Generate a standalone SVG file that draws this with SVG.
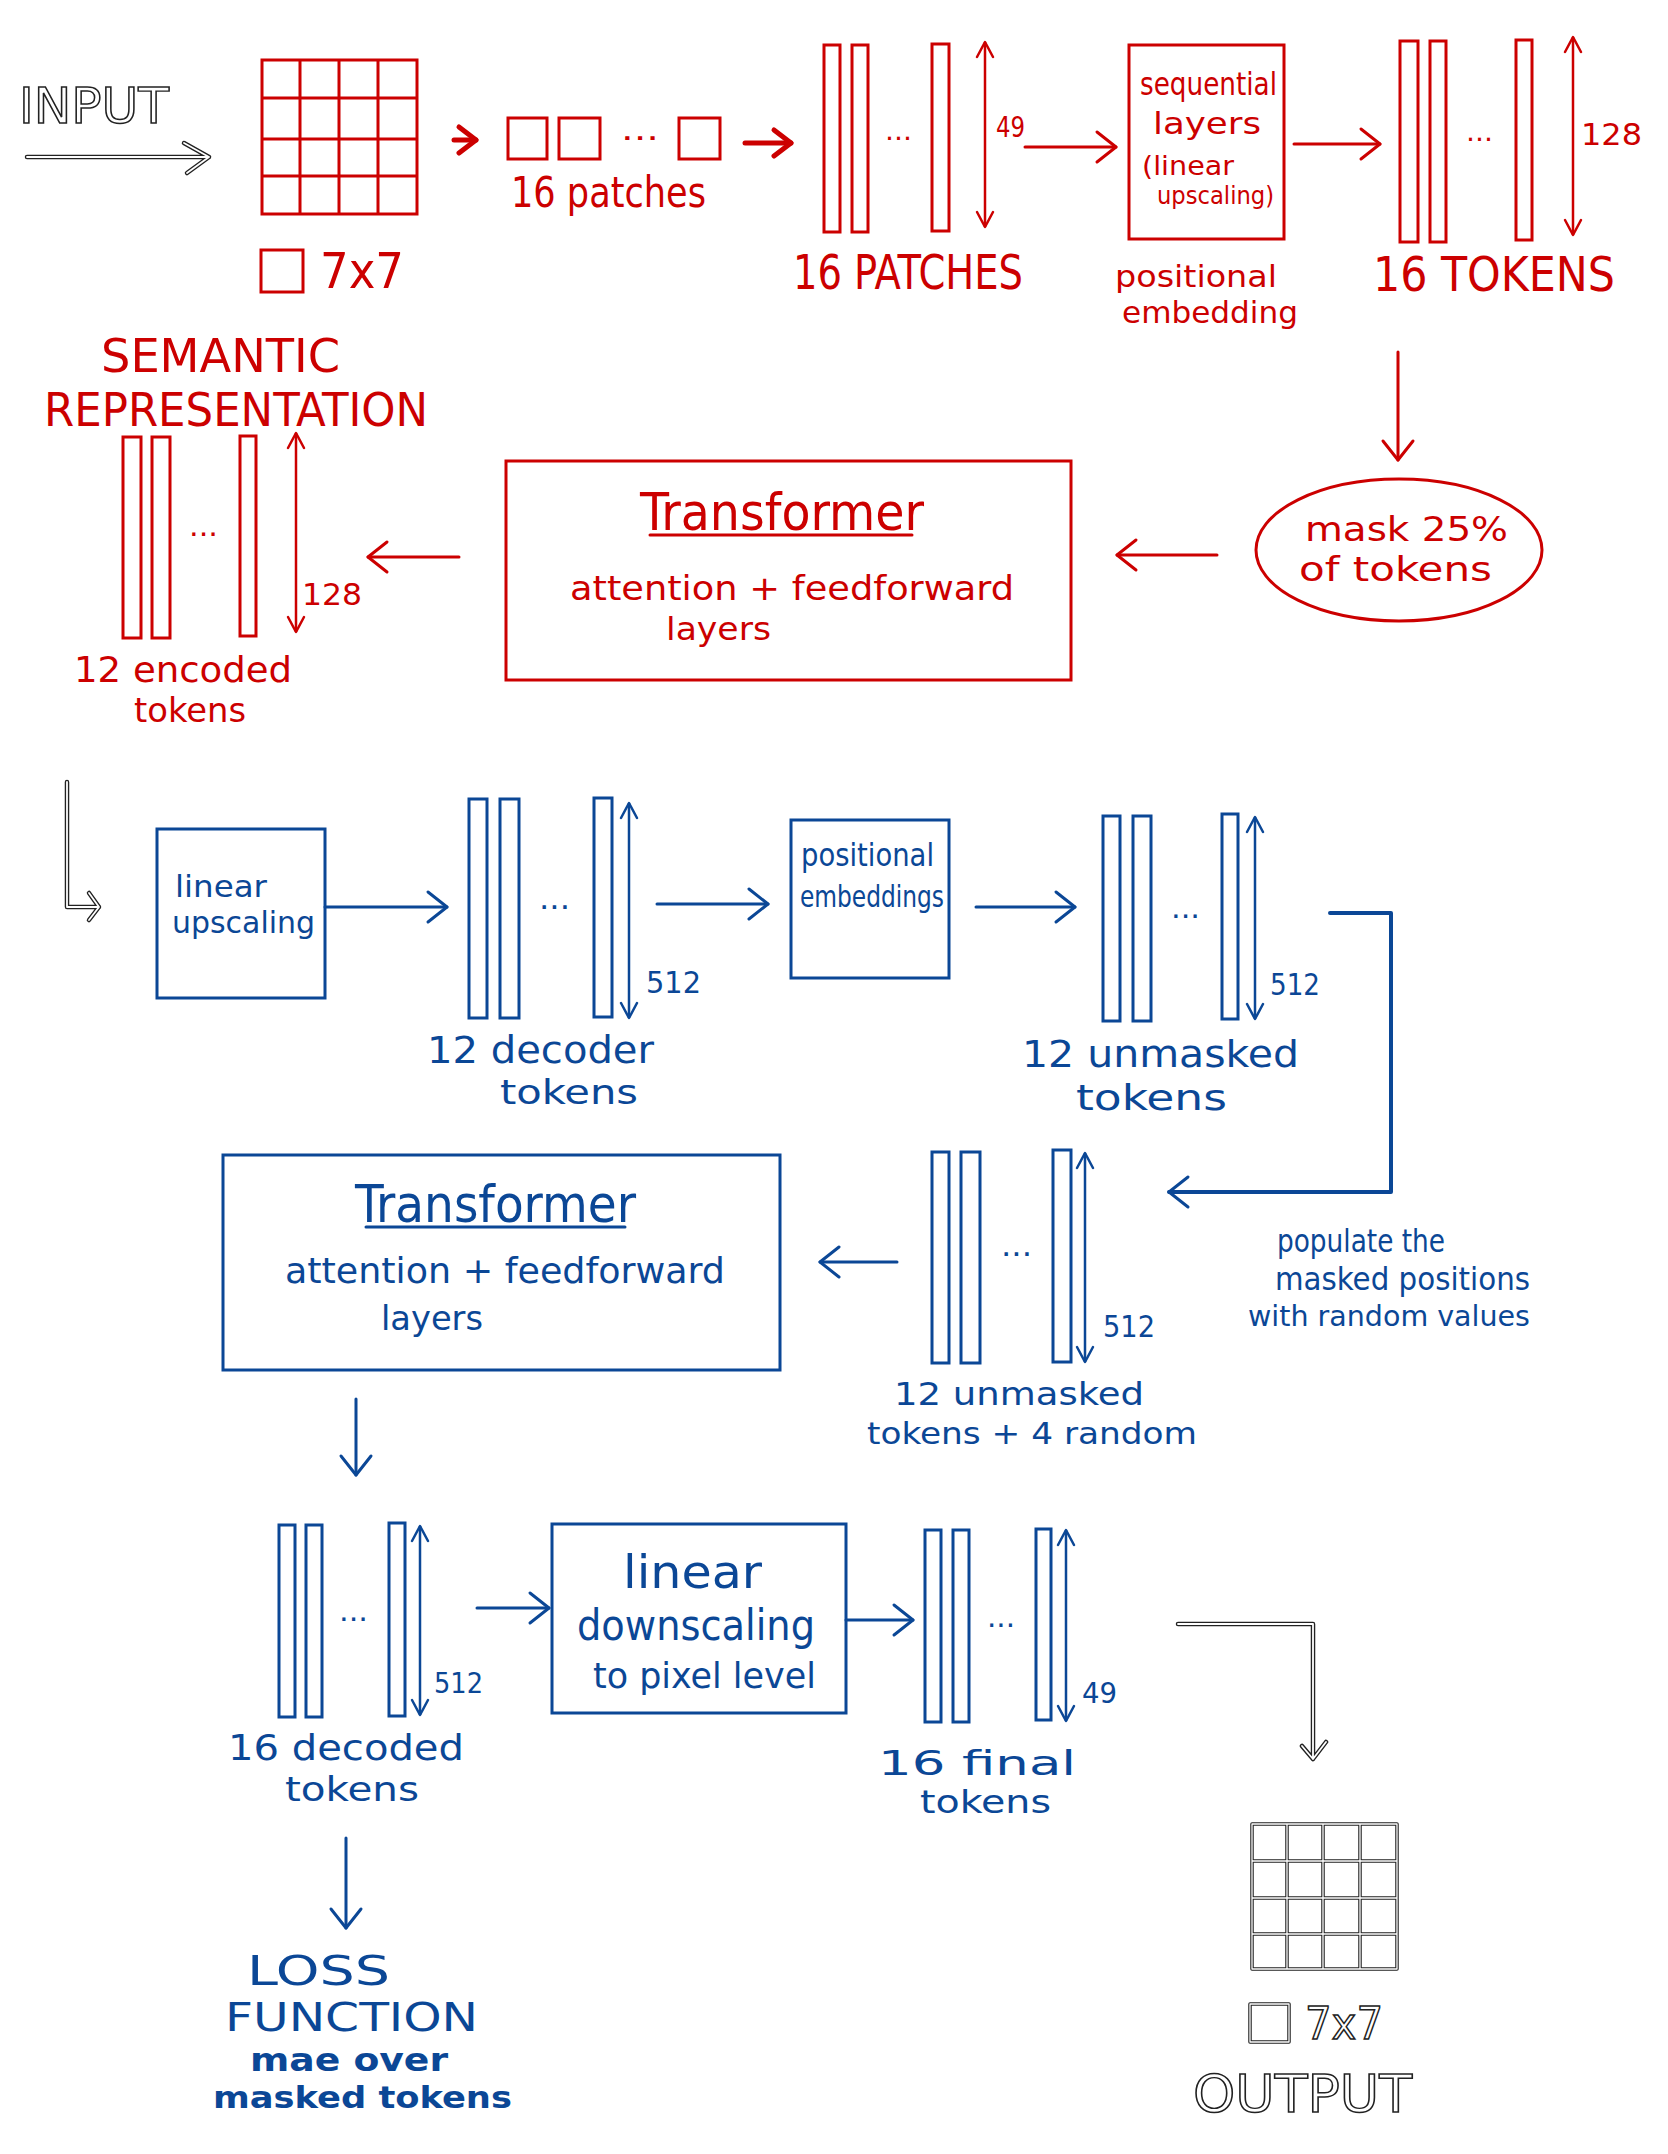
<svg xmlns="http://www.w3.org/2000/svg" width="1668" height="2154" viewBox="0 0 1668 2154">
<style>
text{font-family:"Liberation Sans Narrow","DejaVu Sans Condensed","Liberation Sans",sans-serif;}
.r{fill:#cc0000;}
.b{fill:#0b4796;}
.sr{fill:none;stroke:#cc0000;stroke-width:3;stroke-linecap:round;stroke-linejoin:round;}
.sb{fill:none;stroke:#0b4796;stroke-width:3;stroke-linecap:round;stroke-linejoin:round;}
.srb{fill:none;stroke:#cc0000;stroke-width:5;stroke-linecap:round;stroke-linejoin:round;}
.ko{fill:none;stroke:#222;stroke-width:4.5;stroke-linecap:round;stroke-linejoin:round;}
.ki{fill:none;stroke:#fff;stroke-width:1.8;stroke-linecap:round;stroke-linejoin:round;}
.kt{fill:#fff;stroke:#222;stroke-width:1.4;}
.bar-r{fill:none;stroke:#cc0000;stroke-width:3;}
.bar-b{fill:none;stroke:#0b4796;stroke-width:3;}
.dr{stroke:#cc0000;stroke-width:2.5;marker-start:url(#dR);marker-end:url(#dR);}
.db{stroke:#0b4796;stroke-width:2.5;marker-start:url(#dB);marker-end:url(#dB);}
</style>
<defs>
<marker id="mR" viewBox="-3 -3 26 36" markerWidth="26" markerHeight="36" refX="19" refY="15" orient="auto" markerUnits="userSpaceOnUse"><path d="M0,0 L19,15 L0,30" fill="none" stroke="#cc0000" stroke-width="3" stroke-linecap="round" stroke-linejoin="round"/></marker>
<marker id="mRb" viewBox="-4 -4 28 38" markerWidth="28" markerHeight="38" refX="19" refY="15" orient="auto" markerUnits="userSpaceOnUse"><path d="M2,2 L19,15 L2,28" fill="none" stroke="#cc0000" stroke-width="5" stroke-linecap="round" stroke-linejoin="round"/></marker>
<marker id="mB" viewBox="-3 -3 26 36" markerWidth="26" markerHeight="36" refX="19" refY="15" orient="auto" markerUnits="userSpaceOnUse"><path d="M0,0 L19,15 L0,30" fill="none" stroke="#0b4796" stroke-width="3" stroke-linecap="round" stroke-linejoin="round"/></marker>
<marker id="dR" viewBox="-3 -3 20 22" markerWidth="20" markerHeight="22" refX="15" refY="8" orient="auto-start-reverse" markerUnits="userSpaceOnUse"><path d="M0,0 L15,8 L0,16" fill="none" stroke="#cc0000" stroke-width="2.5" stroke-linecap="round" stroke-linejoin="round"/></marker>
<marker id="dB" viewBox="-3 -3 20 22" markerWidth="20" markerHeight="22" refX="15" refY="8" orient="auto-start-reverse" markerUnits="userSpaceOnUse"><path d="M0,0 L15,8 L0,16" fill="none" stroke="#0b4796" stroke-width="2.5" stroke-linecap="round" stroke-linejoin="round"/></marker>
<path id="inArrow" d="M27,157 L209,157 M184,143 L209,157 L187,173"/>
<path id="lArrow" d="M67,782 L67,907 L99,907 M89,893 L99,907 L89,920"/>
<path id="outArrow" d="M1178,1624 L1313,1624 L1313,1759 M1302,1746 L1313,1759 L1326,1742"/>
<path id="outGrid" d="M1252,1824 H1397 V1969 H1252 Z M1287,1824 V1969 M1323,1824 V1969 M1360,1824 V1969 M1252,1861 H1397 M1252,1898 H1397 M1252,1934 H1397 M1250,2004 H1289 V2042 H1250 Z"/>
</defs>
<rect width="1668" height="2154" fill="#fff"/>

<g id="connectors">
<use href="#inArrow" class="ko"/><use href="#inArrow" class="ki"/>
<path class="srb" d="M454,140 L476,140" marker-end="url(#mRb)"/>
<path class="srb" d="M745,143 L791,143" marker-end="url(#mRb)"/>
<path class="sr" d="M1025,147 L1116,147" marker-end="url(#mR)"/>
<path class="sr" d="M1294,144 L1380,144" marker-end="url(#mR)"/>
<path class="sr" d="M1398,352 L1398,460" marker-end="url(#mR)"/>
<path class="sr" d="M1217,555 L1117,555" marker-end="url(#mR)"/>
<path class="sr" d="M459,557 L368,557" marker-end="url(#mR)"/>
<use href="#lArrow" class="ko"/><use href="#lArrow" class="ki"/>
<path class="sb" d="M325,907 L447,907" marker-end="url(#mB)"/>
<path class="sb" d="M657,904 L768,904" marker-end="url(#mB)"/>
<path class="sb" d="M976,907 L1075,907" marker-end="url(#mB)"/>
<path class="sb" style="stroke-width:4" d="M1330,913 L1391,913 L1391,1192 L1169,1192" marker-end="url(#mB)"/>
<path class="sb" d="M897,1262 L820,1262" marker-end="url(#mB)"/>
<path class="sb" d="M356,1399 L356,1475" marker-end="url(#mB)"/>
<path class="sb" d="M477,1608 L549,1608" marker-end="url(#mB)"/>
<path class="sb" d="M846,1620 L913,1620" marker-end="url(#mB)"/>
<path class="sb" d="M346,1838 L346,1928" marker-end="url(#mB)"/>
<use href="#outArrow" class="ko"/><use href="#outArrow" class="ki"/>
<g id="populate-label">
<text class="b" x="1277" y="1252" font-size="32" textLength="168" lengthAdjust="spacingAndGlyphs">populate the</text>
<text class="b" x="1275" y="1290" font-size="32" textLength="255" lengthAdjust="spacingAndGlyphs">masked positions</text>
<text class="b" x="1248" y="1326" font-size="29" textLength="282" lengthAdjust="spacingAndGlyphs">with random values</text>
</g>
</g>

<g id="input-label">
<text class="kt" x="19" y="123" font-size="50" textLength="150" lengthAdjust="spacingAndGlyphs">INPUT</text>
</g>

<g id="input-image">
<rect class="bar-r" x="262" y="60" width="155" height="154"/>
<path class="bar-r" d="M300,60 V214 M339,60 V214 M378,60 V214 M262,98 H417 M262,139 H417 M262,176 H417"/>
<rect class="bar-r" x="261" y="250" width="42" height="42"/>
<text class="r" x="320" y="288" font-size="50" textLength="84" lengthAdjust="spacingAndGlyphs">7x7</text>
</g>

<g id="patches">
<rect class="bar-r" x="508" y="118" width="39" height="41"/>
<rect class="bar-r" x="559" y="118" width="41" height="41"/>
<text class="r" x="621" y="140" font-size="30" textLength="38" lengthAdjust="spacingAndGlyphs">...</text>
<rect class="bar-r" x="679" y="118" width="41" height="41"/>
<text class="r" x="511" y="207" font-size="42" textLength="195" lengthAdjust="spacingAndGlyphs">16 patches</text>
</g>

<g id="patch-vectors">
<rect class="bar-r" x="824" y="45" width="16" height="187"/>
<rect class="bar-r" x="852" y="45" width="16" height="187"/>
<text class="r" x="885" y="140" font-size="26" textLength="27" lengthAdjust="spacingAndGlyphs">...</text>
<rect class="bar-r" x="932" y="44" width="17" height="187"/>
<line class="dr" x1="985" y1="42" x2="985" y2="227"/>
<text class="r" x="996" y="137" font-size="28" textLength="29" lengthAdjust="spacingAndGlyphs">49</text>
<text class="r" x="793" y="289" font-size="48" textLength="230" lengthAdjust="spacingAndGlyphs">16 PATCHES</text>
</g>

<g id="sequential-layers">
<rect class="bar-r" x="1129" y="45" width="155" height="194"/>
<text class="r" x="1140" y="95" font-size="32" textLength="137" lengthAdjust="spacingAndGlyphs">sequential</text>
<text class="r" x="1153" y="134" font-size="30" textLength="108" lengthAdjust="spacingAndGlyphs">layers</text>
<text class="r" x="1142" y="175" font-size="26" textLength="92" lengthAdjust="spacingAndGlyphs">(linear</text>
<text class="r" x="1157" y="204" font-size="24" textLength="117" lengthAdjust="spacingAndGlyphs">upscaling)</text>
<text class="r" x="1115" y="287" font-size="31" textLength="162" lengthAdjust="spacingAndGlyphs">positional</text>
<text class="r" x="1122" y="323" font-size="30" textLength="176" lengthAdjust="spacingAndGlyphs">embedding</text>
</g>

<g id="tokens-16">
<rect class="bar-r" x="1400" y="41" width="18" height="201"/>
<rect class="bar-r" x="1430" y="41" width="16" height="201"/>
<text class="r" x="1466" y="141" font-size="26" textLength="27" lengthAdjust="spacingAndGlyphs">...</text>
<rect class="bar-r" x="1516" y="40" width="16" height="200"/>
<line class="dr" x1="1573" y1="37" x2="1573" y2="235"/>
<text class="r" x="1581" y="145" font-size="30" textLength="61" lengthAdjust="spacingAndGlyphs">128</text>
<text class="r" x="1373" y="291" font-size="48" textLength="242" lengthAdjust="spacingAndGlyphs">16 TOKENS</text>
</g>

<g id="mask">
<ellipse class="sr" cx="1399" cy="550" rx="143" ry="71"/>
<text class="r" x="1305" y="541" font-size="34" textLength="203" lengthAdjust="spacingAndGlyphs">mask 25%</text>
<text class="r" x="1299" y="581" font-size="33" textLength="193" lengthAdjust="spacingAndGlyphs">of tokens</text>
</g>

<g id="encoder-transformer">
<rect class="bar-r" x="506" y="461" width="565" height="219"/>
<text class="r" x="640" y="530" font-size="52" textLength="284" lengthAdjust="spacingAndGlyphs">Transformer</text>
<line class="sr" x1="650" y1="535" x2="912" y2="535"/>
<text class="r" x="570" y="600" font-size="34" textLength="444" lengthAdjust="spacingAndGlyphs">attention + feedforward</text>
<text class="r" x="666" y="640" font-size="32" textLength="105" lengthAdjust="spacingAndGlyphs">layers</text>
</g>

<g id="semantic-representation">
<text class="r" x="101" y="372" font-size="46" textLength="239" lengthAdjust="spacingAndGlyphs">SEMANTIC</text>
<text class="r" x="44" y="426" font-size="46" textLength="384" lengthAdjust="spacingAndGlyphs">REPRESENTATION</text>
<rect class="bar-r" x="123" y="437" width="18" height="201"/>
<rect class="bar-r" x="152" y="437" width="18" height="201"/>
<text class="r" x="189" y="536" font-size="28" textLength="29" lengthAdjust="spacingAndGlyphs">...</text>
<rect class="bar-r" x="240" y="436" width="16" height="200"/>
<line class="dr" x1="296" y1="433" x2="296" y2="632"/>
<text class="r" x="302" y="605" font-size="30" textLength="60" lengthAdjust="spacingAndGlyphs">128</text>
<text class="r" x="74" y="682" font-size="36" textLength="218" lengthAdjust="spacingAndGlyphs">12 encoded</text>
<text class="r" x="134" y="722" font-size="34" textLength="112" lengthAdjust="spacingAndGlyphs">tokens</text>
</g>

<g id="linear-upscaling">
<rect class="bar-b" x="157" y="829" width="168" height="169"/>
<text class="b" x="175" y="897" font-size="31" textLength="92" lengthAdjust="spacingAndGlyphs">linear</text>
<text class="b" x="172" y="933" font-size="30" textLength="143" lengthAdjust="spacingAndGlyphs">upscaling</text>
</g>

<g id="decoder-tokens">
<rect class="bar-b" x="469" y="799" width="18" height="219"/>
<rect class="bar-b" x="500" y="799" width="19" height="219"/>
<text class="b" x="539" y="909" font-size="30" textLength="31" lengthAdjust="spacingAndGlyphs">...</text>
<rect class="bar-b" x="594" y="798" width="18" height="219"/>
<line class="db" x1="629" y1="803" x2="629" y2="1018"/>
<text class="b" x="646" y="993" font-size="30" textLength="55" lengthAdjust="spacingAndGlyphs">512</text>
<text class="b" x="427" y="1063" font-size="37" textLength="227" lengthAdjust="spacingAndGlyphs">12 decoder</text>
<text class="b" x="500" y="1104" font-size="34" textLength="138" lengthAdjust="spacingAndGlyphs">tokens</text>
</g>

<g id="positional-embeddings">
<rect class="bar-b" x="791" y="820" width="158" height="158"/>
<text class="b" x="801" y="866" font-size="32" textLength="133" lengthAdjust="spacingAndGlyphs">positional</text>
<text class="b" x="800" y="907" font-size="31" textLength="144" lengthAdjust="spacingAndGlyphs">embeddings</text>
</g>

<g id="unmasked-tokens">
<rect class="bar-b" x="1103" y="816" width="17" height="205"/>
<rect class="bar-b" x="1133" y="816" width="18" height="205"/>
<text class="b" x="1171" y="918" font-size="28" textLength="29" lengthAdjust="spacingAndGlyphs">...</text>
<rect class="bar-b" x="1222" y="814" width="16" height="205"/>
<line class="db" x1="1255" y1="817" x2="1255" y2="1019"/>
<text class="b" x="1270" y="995" font-size="30" textLength="50" lengthAdjust="spacingAndGlyphs">512</text>
<text class="b" x="1022" y="1067" font-size="38" textLength="277" lengthAdjust="spacingAndGlyphs">12 unmasked</text>
<text class="b" x="1076" y="1110" font-size="36" textLength="151" lengthAdjust="spacingAndGlyphs">tokens</text>
</g>

<g id="unmasked-plus-random">
<rect class="bar-b" x="932" y="1152" width="17" height="211"/>
<rect class="bar-b" x="961" y="1152" width="19" height="211"/>
<text class="b" x="1001" y="1256" font-size="30" textLength="31" lengthAdjust="spacingAndGlyphs">...</text>
<rect class="bar-b" x="1053" y="1150" width="18" height="212"/>
<line class="db" x1="1085" y1="1153" x2="1085" y2="1362"/>
<text class="b" x="1103" y="1337" font-size="30" textLength="52" lengthAdjust="spacingAndGlyphs">512</text>
<text class="b" x="894" y="1405" font-size="32" textLength="250" lengthAdjust="spacingAndGlyphs">12 unmasked</text>
<text class="b" x="867" y="1444" font-size="31" textLength="330" lengthAdjust="spacingAndGlyphs">tokens + 4 random</text>
</g>

<g id="decoder-transformer">
<rect class="bar-b" x="223" y="1155" width="557" height="215"/>
<text class="b" x="355" y="1222" font-size="52" textLength="281" lengthAdjust="spacingAndGlyphs">Transformer</text>
<line class="sb" x1="366" y1="1227" x2="625" y2="1227"/>
<text class="b" x="285" y="1283" font-size="36" textLength="440" lengthAdjust="spacingAndGlyphs">attention + feedforward</text>
<text class="b" x="381" y="1330" font-size="34" textLength="102" lengthAdjust="spacingAndGlyphs">layers</text>
</g>

<g id="decoded-tokens">
<rect class="bar-b" x="279" y="1525" width="16" height="192"/>
<rect class="bar-b" x="306" y="1525" width="16" height="192"/>
<text class="b" x="339" y="1621" font-size="28" textLength="29" lengthAdjust="spacingAndGlyphs">...</text>
<rect class="bar-b" x="389" y="1523" width="16" height="193"/>
<line class="db" x1="420" y1="1526" x2="420" y2="1715"/>
<text class="b" x="434" y="1693" font-size="28" textLength="49" lengthAdjust="spacingAndGlyphs">512</text>
<text class="b" x="228" y="1760" font-size="36" textLength="236" lengthAdjust="spacingAndGlyphs">16 decoded</text>
<text class="b" x="285" y="1801" font-size="34" textLength="134" lengthAdjust="spacingAndGlyphs">tokens</text>
</g>

<g id="linear-downscaling">
<rect class="bar-b" x="552" y="1524" width="294" height="189"/>
<text class="b" x="623" y="1588" font-size="46" textLength="139" lengthAdjust="spacingAndGlyphs">linear</text>
<text class="b" x="577" y="1640" font-size="42" textLength="238" lengthAdjust="spacingAndGlyphs">downscaling</text>
<text class="b" x="593" y="1688" font-size="36" textLength="223" lengthAdjust="spacingAndGlyphs">to pixel level</text>
</g>

<g id="final-tokens">
<rect class="bar-b" x="925" y="1530" width="16" height="192"/>
<rect class="bar-b" x="953" y="1530" width="16" height="192"/>
<text class="b" x="987" y="1627" font-size="28" textLength="28" lengthAdjust="spacingAndGlyphs">...</text>
<rect class="bar-b" x="1036" y="1529" width="15" height="191"/>
<line class="db" x1="1066" y1="1530" x2="1066" y2="1721"/>
<text class="b" x="1082" y="1703" font-size="28" textLength="35" lengthAdjust="spacingAndGlyphs">49</text>
<text class="b" x="878" y="1775" font-size="34" textLength="198" lengthAdjust="spacingAndGlyphs">16 final</text>
<text class="b" x="920" y="1813" font-size="32" textLength="131" lengthAdjust="spacingAndGlyphs">tokens</text>
</g>

<g id="loss-function">
<text class="b" x="247" y="1985" font-size="40" textLength="143" lengthAdjust="spacingAndGlyphs">LOSS</text>
<text class="b" x="225" y="2031" font-size="39" textLength="253" lengthAdjust="spacingAndGlyphs">FUNCTION</text>
<text class="b" x="250" y="2071" font-size="32" font-weight="bold" textLength="198" lengthAdjust="spacingAndGlyphs">mae over</text>
<text class="b" x="213" y="2108" font-size="31" font-weight="bold" textLength="299" lengthAdjust="spacingAndGlyphs">masked tokens</text>
</g>

<g id="output">
<use href="#outGrid" class="ko" style="stroke-width:3.5"/><use href="#outGrid" class="ki" style="stroke-width:1.3"/>
<text class="kt" x="1305" y="2039" font-size="44" textLength="78" lengthAdjust="spacingAndGlyphs">7x7</text>
<text class="kt" x="1193" y="2112" font-size="52" textLength="219" lengthAdjust="spacingAndGlyphs">OUTPUT</text>
</g>
</svg>
